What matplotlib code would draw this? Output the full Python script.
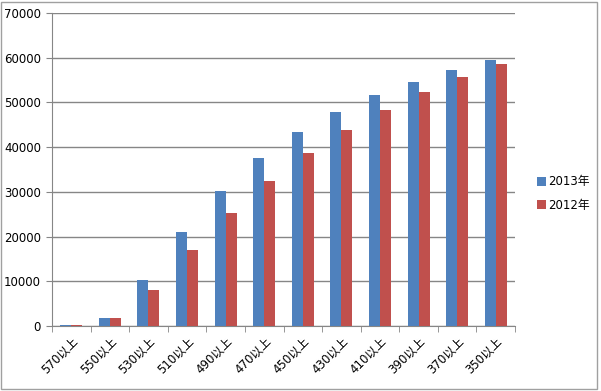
import matplotlib
matplotlib.use("Agg")
import matplotlib.pyplot as plt
import numpy as np

plt.rcParams['font.family'] = ['DejaVu Sans', 'Noto Sans CJK SC']

categories = ["570以上", "550以上", "530以上", "510以上", "490以上", "470以上",
              "450以上", "430以上", "410以上", "390以上", "370以上", "350以上"]
y2013 = [250, 1700, 10300, 21000, 30200, 37600, 43400, 47900, 51700, 54600, 57300, 59500]
y2012 = [230, 1700, 8100, 17000, 25300, 32400, 38700, 43900, 48400, 52400, 55700, 58600]
series_names = ["2013年", "2012年"]

blue = "#4F81BD"
red = "#C0504D"
grid = "#868686"

fig = plt.figure(figsize=(6.01, 3.91), dpi=100)
ax = fig.add_axes([0.0865, 0.1662, 0.7705, 0.8006])

x = np.arange(len(categories))
w = 1 / 3.5
ax.bar(x - w / 2, y2013, width=w, color=blue, label=series_names[0], zorder=3)
ax.bar(x + w / 2, y2012, width=w, color=red, label=series_names[1], zorder=3)

ax.set_xlim(-0.5, len(categories) - 0.5)
ax.set_ylim(0, 70000)
ax.set_yticks(range(0, 70001, 10000))
ax.yaxis.grid(True, color=grid, linewidth=1)
ax.set_axisbelow(True)

ax.set_xticks(x)
ax.set_xticklabels(categories, rotation=45, ha="right", rotation_mode="anchor", fontsize=8.5)
ax.set_xticks(np.arange(-0.5, len(categories)), minor=True)
ax.tick_params(axis="x", which="major", length=0, pad=6)
ax.tick_params(axis="x", which="minor", length=4, color=grid)
ax.tick_params(axis="y", length=4, color=grid, labelsize=8.5, pad=4)

for s in ["top", "right"]:
    ax.spines[s].set_visible(False)
ax.spines["left"].set_color(grid)
ax.spines["bottom"].set_color(grid)

fig.legend(loc="center left", bbox_to_anchor=(0.885, 0.505), frameon=False,
           fontsize=8.5, handlelength=0.8, handleheight=0.8, handletextpad=0.2,
           labelspacing=0.9, borderaxespad=0)

fig.patches.append(plt.Rectangle((0.002, 0.004), 0.992, 0.992, transform=fig.transFigure,
                                 fill=False, edgecolor="#A0A0A0", linewidth=1))

fig.savefig("out.png", dpi=100)
